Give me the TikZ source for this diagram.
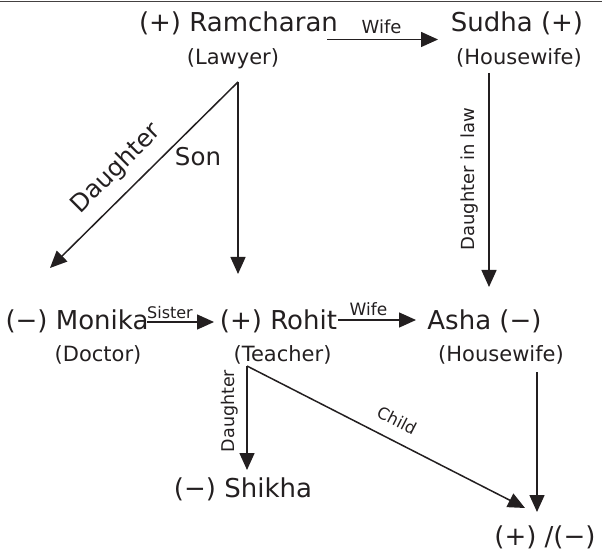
\documentclass[tikz,border=0pt]{standalone}
\usepackage{fontspec}
\setmainfont{DejaVu Sans}
\usetikzlibrary{arrows.meta}
\definecolor{ink}{RGB}{35,31,32}
\tikzset{
  person/.style={font=\fontsize{26}{30}\selectfont, anchor=base, inner sep=0pt, text=ink},
  job/.style={font=\fontsize{21}{25}\selectfont, anchor=base, inner sep=0pt, text=ink},
  rel/.style={font=\fontsize{17}{20}\selectfont, inner sep=0pt, text=ink},
  bigrel/.style={font=\fontsize{24.5}{28}\selectfont, inner sep=0pt, text=ink},
  link/.style={draw=ink, line width=1.5pt, -{Triangle[length=17pt,width=15pt]}}
}
\begin{document}
\begin{tikzpicture}[x=1pt,y=1pt]
  \useasboundingbox (0,0) rectangle (602,-553);
  % rule along the top edge
  \draw[line width=1.5pt, draw=ink!85] (0,-1.5) -- (602,-1.5);

  % people
  \node[person] (ram)    at (238.5,-32)  {(+) Ramcharan};
  \node[job]    (ramjob) at (233,-65)    {(Lawyer)};
  \node[person] (sudha)  at (517,-32)    {Sudha (+)};
  \node[job]    (sudjob) at (519,-65)    {(Housewife)};
  \node[person] (monika) at (77,-329)    {(−) Monika};
  \node[job]    (monjob) at (98,-361)    {(Doctor)};
  \node[person] (rohit)  at (278.5,-329) {(+) Rohit};
  \node[job]    (rohjob) at (282.5,-361) {(Teacher)};
  \node[person] (asha)   at (484.5,-329) {Asha (−)};
  \node[job]    (ashjob) at (501,-361)   {(Housewife)};
  \node[person] (shikha) at (243,-497)   {(−) Shikha};
  \node[person] (child)  at (545,-545)   {(+) /(−)};

  % connector ends
  \coordinate (ramR)   at (327,-39.5);
  \coordinate (sudL)   at (438,-39.5);
  \coordinate (ramTop) at (238,-82);
  \coordinate (monTip) at (50,-268);
  \coordinate (rohTop) at (238,-274);
  \coordinate (sudBot) at (489,-73);
  \coordinate (ashTop) at (489,-287);
  \coordinate (monR)   at (147,-322);
  \coordinate (rohL)   at (214,-322);
  \coordinate (rohR)   at (338,-320);
  \coordinate (ashL)   at (416,-320);
  \coordinate (rohBot) at (247,-366);
  \coordinate (shiTop) at (247,-470);
  \coordinate (kidL)   at (525,-508);
  \coordinate (ashBot) at (537,-372);
  \coordinate (kidTop) at (537,-512);

  % relations
  \draw[link] (ramR) -- (sudL);
  \draw[link] (ramTop) -- (monTip);
  \draw[link] (ramTop) -- (rohTop);
  \draw[link] (sudBot) -- (ashTop);
  \draw[link] (monR) -- (rohL);
  \draw[link] (rohR) -- (ashL);
  \draw[link] (rohBot) -- (shiTop);
  \draw[link] (rohBot) -- (kidL);
  \draw[link] (ashBot) -- (kidTop);

  % relation labels
  \node[rel, anchor=base, font=\fontsize{18}{20}\selectfont] (lwife1) at (381.5,-34) {Wife};
  \node[bigrel, rotate=45] (ldau1) at (116.5,-168.5) {Daughter};
  \node[bigrel] (lson) at (198,-157) {Son};
  \node[rel, rotate=90, font=\fontsize{18}{20}\selectfont] (ldil) at (470,-179) {Daughter in law};
  \node[rel, anchor=base, font=\fontsize{16}{20}\selectfont] (lsis) at (170,-318) {Sister};
  \node[rel, anchor=base] (lwife2) at (368.5,-315) {Wife};
  \node[rel, rotate=90, font=\fontsize{17.5}{20}\selectfont] (ldau2) at (230,-411) {Daughter};
  \node[rel, rotate=-27, font=\fontsize{16.5}{20}\selectfont] (lchild) at (397,-420) {Child};
\end{tikzpicture}
\end{document}
